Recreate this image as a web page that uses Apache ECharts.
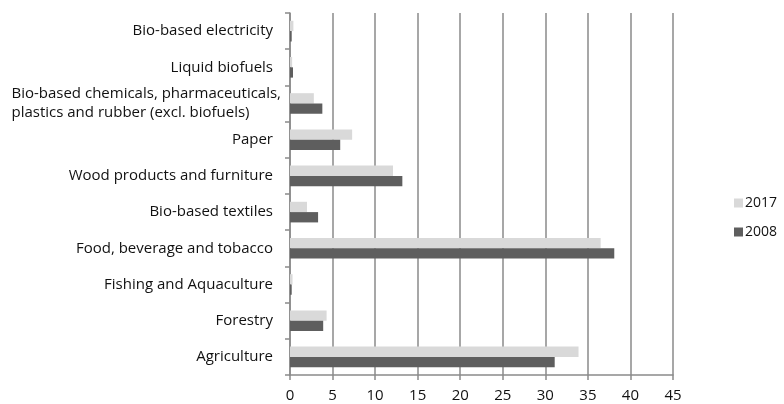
<!DOCTYPE html>
<html><head><meta charset="utf-8">
<script src="https://cdn.jsdelivr.net/npm/echarts@6/dist/echarts.min.js"></script>
<style>html,body{margin:0;padding:0;background:#fff}#c{width:784px;height:404px}</style>
</head><body><div id="c"></div>
<script>
const categories = [
  "Agriculture",
  "Forestry",
  "Fishing and Aquaculture",
  "Food, beverage and tobacco",
  "Bio-based textiles",
  "Wood products and furniture",
  "Paper",
  "Bio-based chemicals, pharmaceuticals,\nplastics and rubber (excl. biofuels)",
  "Liquid biofuels",
  "Bio-based electricity"
];
const values2017 = [33.9, 4.3, 0.3, 36.5, 2.0, 12.1, 7.3, 2.8, 0.25, 0.4];
const values2008 = [31.1, 3.9, 0.2, 38.1, 3.3, 13.2, 5.9, 3.8, 0.35, 0.2];
const xTicks = [0, 5, 10, 15, 20, 25, 30, 35, 40, 45];

const font = "'Open Sans', sans-serif";
const txt = '#111';
const chart = echarts.init(document.getElementById('c'));
chart.setOption({
  animation: false,
  textStyle: { fontFamily: font },
  grid: { left: 290, right: 111, top: 13, bottom: 29, containLabel: false },
  legend: {
    orient: 'vertical', left: 729, top: 191,
    itemWidth: 9, itemHeight: 9, itemGap: 15,
    icon: 'rect',
    textStyle: { fontFamily: font, fontSize: 14, color: txt, padding: [0, 0, 0, -3] },
    data: ['2017', '2008']
  },
  xAxis: {
    type: 'value', min: xTicks[0], max: xTicks[xTicks.length - 1], interval: 5,
    axisLine: { show: true, lineStyle: { color: '#8a8a8a', width: 1.5 } },
    axisTick: { show: true, length: 5, lineStyle: { color: '#8a8a8a', width: 1.5 } },
    axisLabel: { color: txt, fontSize: 15, fontFamily: font, margin: 13 },
    splitLine: { show: true, lineStyle: { color: '#8a8a8a', width: 1.5 } }
  },
  yAxis: {
    type: 'category', data: categories,
    axisLine: { show: true, lineStyle: { color: '#8a8a8a', width: 1.5 } },
    axisTick: { show: true, length: 5, alignWithLabel: false, lineStyle: { color: '#8a8a8a', width: 1.5 } },
    axisLabel: {
      color: txt, fontSize: 15, fontFamily: font, margin: 9, lineHeight: 19,
      formatter: function (v) {
        if (v.indexOf('\n') >= 0) return '{l|' + v.split('\n').join('}\n{l|') + '}';
        return '{n|' + v + '}';
      },
      rich: {
        l: { align: 'left', fontSize: 15, fontFamily: font, color: txt, lineHeight: 19 },
        n: { fontSize: 15, fontFamily: font, color: txt, padding: [0, 8, 0, 0] }
      }
    },
    splitLine: { show: false }
  },
  series: [
    { name: '2017', type: 'bar', data: values2017, barGap: '0%', barCategoryGap: '43%',
      itemStyle: { color: '#d9d9d9' } },
    { name: '2008', type: 'bar', data: values2008, barGap: '0%', barCategoryGap: '43%',
      itemStyle: { color: '#5e5e5e' } }
  ]
});
</script></body></html>
